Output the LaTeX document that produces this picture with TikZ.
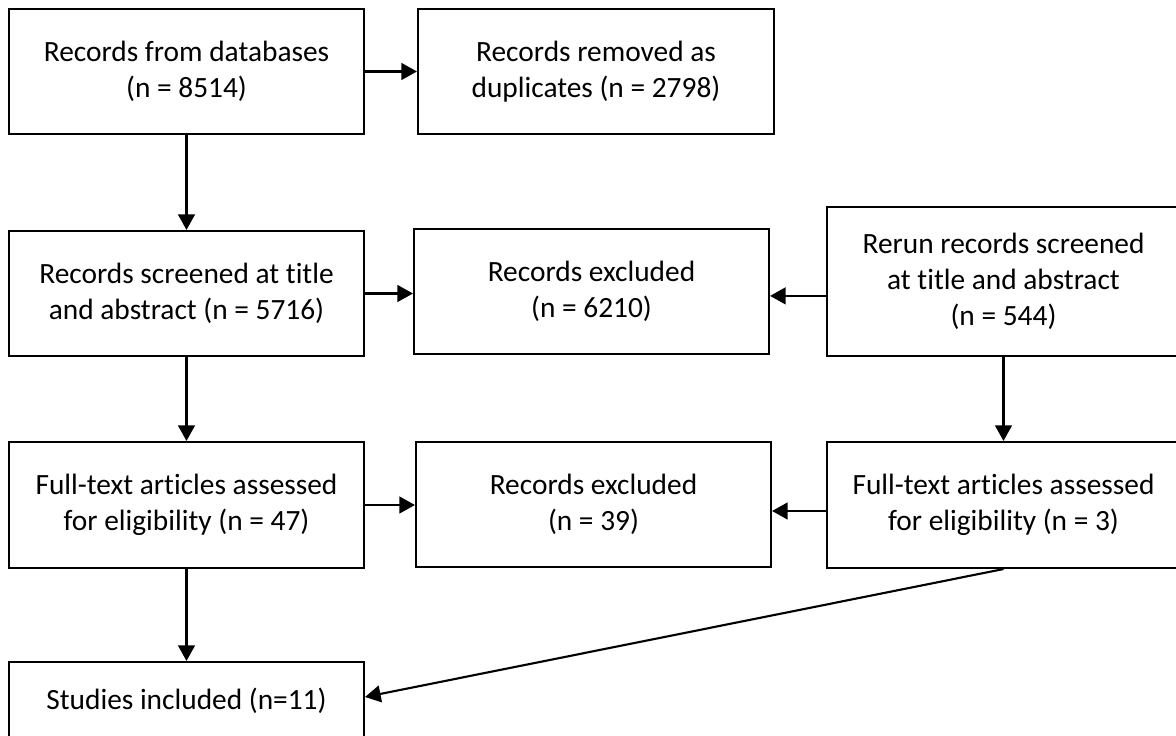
\documentclass[tikz,border=0pt]{standalone}
\usepackage{xcolor}
\usepackage{fontspec}
\setmainfont{Carlito}[Ligatures=NoCommon]
\usetikzlibrary{arrows.meta}
\tikzset{
  flowbox/.style={draw=black,line width=1.5pt,align=center,inner sep=0pt,
    font=\fontsize{20.9pt}{25.6pt}\selectfont},
  flowarrow/.style={draw=black,line width=1.5pt,
    -{Triangle[length=0.39cm,width=0.42cm]}}
}

\begin{document}
\begin{tikzpicture}[x=1cm,y=1cm]
\path[use as bounding box] (0,0) rectangle (29.40,18.375);
\clip (0,0) rectangle (29.40,18.375);
\node[flowbox,minimum width=8.875cm,minimum height=3.125cm] (dbrec) at (4.6625,16.5875) {Records from databases\\(n = 8514)};
\node[flowbox,minimum width=8.90cm,minimum height=3.125cm] (dupes) at (14.90,16.5875) {Records removed as\\duplicates (n = 2798)};
\node[flowbox,minimum width=8.875cm,minimum height=3.125cm] (screen) at (4.6625,11.0375) {Records screened at title\\and abstract (n = 5716)};
\node[flowbox,minimum width=8.875cm,minimum height=3.125cm] (excla) at (14.7875,11.0875) {Records excluded\\(n = 6210)};
\node[flowbox,minimum width=8.825cm,minimum height=3.725cm] (rerun) at (25.0875,11.3375) {Rerun records screened\\at title and abstract\\(n = 544)};
\node[flowbox,minimum width=8.875cm,minimum height=3.15cm] (fulla) at (4.6625,5.75) {Full-text articles assessed\\for eligibility (n = 47)};
\node[flowbox,minimum width=8.875cm,minimum height=3.125cm] (exclb) at (14.8375,5.7625) {Records excluded\\(n = 39)};
\node[flowbox,minimum width=8.825cm,minimum height=3.15cm] (fullb) at (25.0875,5.75) {Full-text articles assessed\\for eligibility (n = 3)};
\node[flowbox,minimum width=8.875cm,minimum height=1.95cm] (incl) at (4.6625,0.85) {Studies included (n=11)};
% connectors
\draw[flowarrow] (dbrec.east) -- (dupes.west);
\draw[flowarrow] (dbrec.south) -- (screen.north);
\draw[flowarrow] (screen.east) -- (screen.east -| excla.west);
\draw[flowarrow] ([yshift=-0.36cm]rerun.west) -- ([yshift=-0.36cm]rerun.west -| excla.east);
\draw[flowarrow] (screen.south) -- (fulla.north);
\draw[flowarrow] (rerun.south) -- (fullb.north);
\draw[flowarrow] (fulla.east) -- (fulla.east -| exclb.west);
\draw[flowarrow] ([yshift=-0.15cm]fullb.west) -- ([yshift=-0.15cm]fullb.west -| exclb.east);
\draw[flowarrow] (fulla.south) -- (incl.north);
\draw[flowarrow] (fullb.south) -- ([yshift=0.1cm]incl.east);
\end{tikzpicture}
\end{document}
